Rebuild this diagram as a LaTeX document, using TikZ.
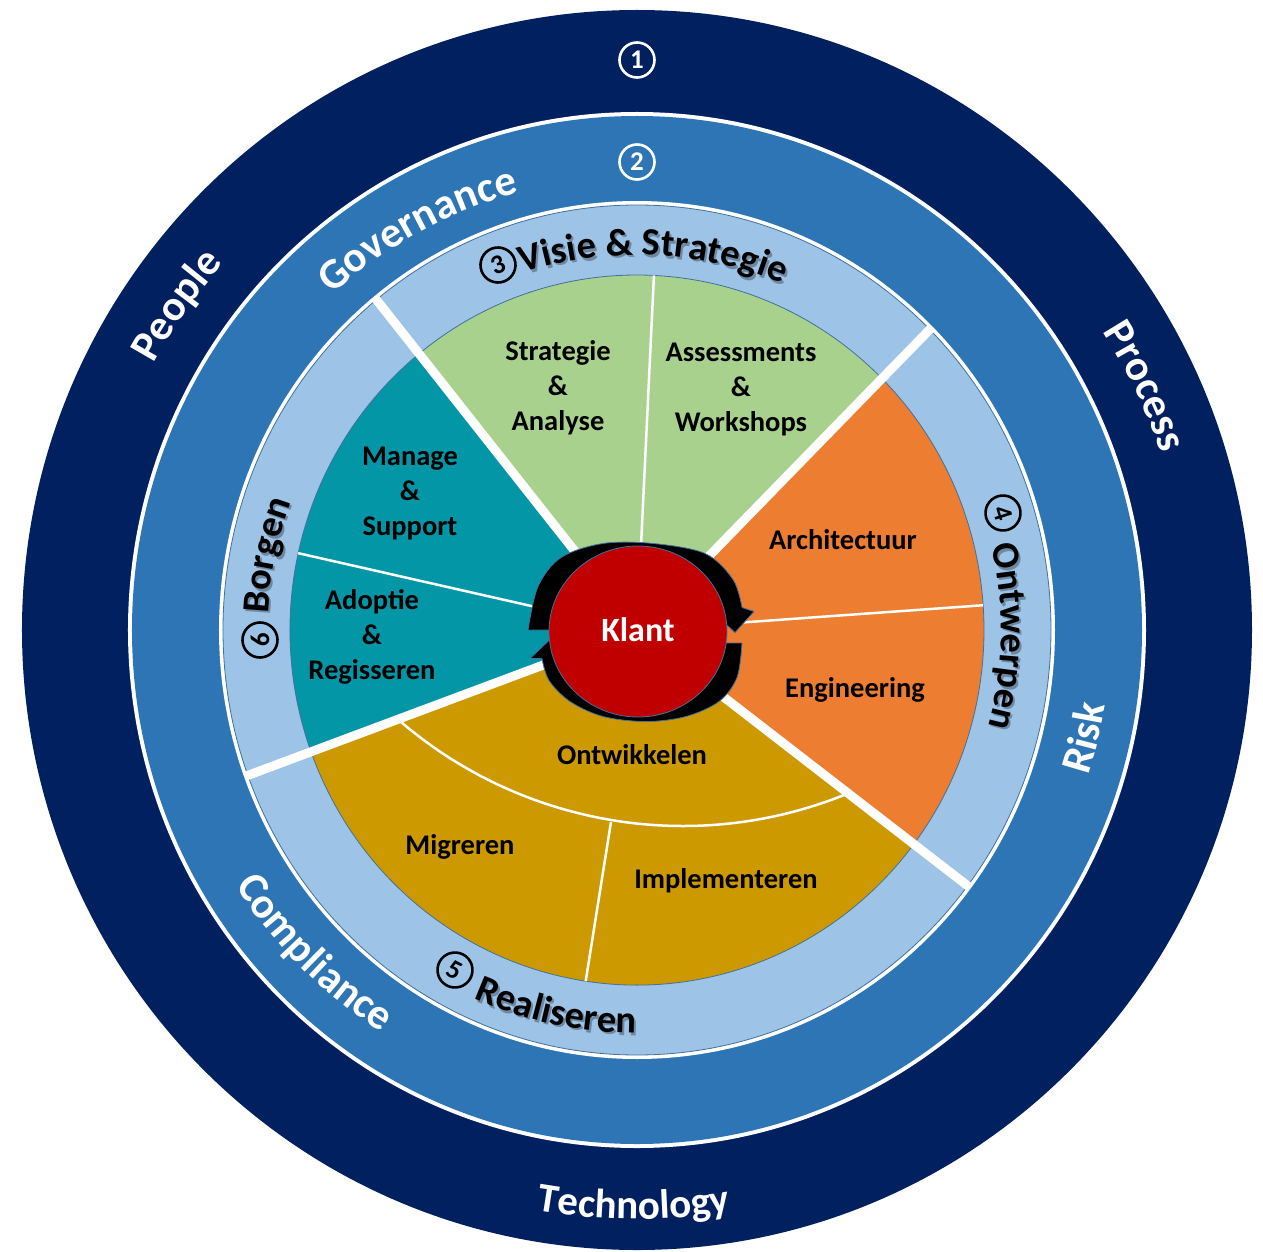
\documentclass[tikz,border=0pt]{standalone}
\usepackage{fontspec}
\setmainfont{Carlito}
\usetikzlibrary{decorations.text}
\definecolor{navy}{HTML}{002060}
\definecolor{midblue}{HTML}{2E75B6}
\definecolor{lightblue}{HTML}{9DC3E6}
\definecolor{segGreen}{HTML}{A9D18E}
\definecolor{segTeal}{HTML}{0396A6}
\definecolor{segOrange}{HTML}{ED7D31}
\definecolor{segGold}{HTML}{CC9900}
\definecolor{klantRed}{HTML}{C00000}
\definecolor{edgeblue}{HTML}{41719C}
\newcommand\ringfont{\fontsize{43}{50}\selectfont\bfseries}
\newcommand\techfont{\fontsize{41}{48}\selectfont\bfseries}
\newcommand\bandfont{\fontsize{38.5}{45}\selectfont\bfseries}
\newcommand\segfont{\fontsize{28.5}{35}\selectfont\bfseries}
\newcommand\klantfont{\fontsize{34}{40}\selectfont\bfseries}
\newcommand\numfont{\fontsize{27}{27}\selectfont\bfseries}
\newcommand\cwtext[5]{\path[decorate,decoration={text along path,text align=center,text color=#1,text={|#2|#5}}] ({#3+60}:#4) arc[start angle={#3+60},end angle={#3-60},radius=#4];}
\newcommand\ccwtext[5]{\path[decorate,decoration={text along path,text align=center,text color=#1,text={|#2|#5}}] ({#3-60}:#4) arc[start angle={#3-60},end angle={#3+60},radius=#4];}
\newcommand\mysector[3]{\filldraw[seg,fill=#1] (0,0) -- (#2:347 and 355) arc[start angle=#2,end angle=#3,x radius=347,y radius=355] -- cycle;}
\begin{document}
\begin{tikzpicture}[x=1pt,y=1pt,
  seg/.style={draw=edgeblue,line width=0.8pt},
  thicksep/.style={white,line width=9pt},
  thinsep/.style={white,line width=2.5pt},
  segtext/.style={font=\segfont,align=center,text=black,inner sep=0pt},
  cnum/.style={circle,draw,line width=2.6pt,minimum size=35pt,inner sep=0pt,font=\numfont},
  arrowband/.style={fill=black,draw=edgeblue,line width=0.8pt,line join=round}]
\useasboundingbox (-637,-621) rectangle (626,630);
% rings
\fill[navy] (0,0) ellipse[x radius=615,y radius=620];
\fill[white] (0,0) ellipse[x radius=509,y radius=518];
\fill[midblue] (0,0) ellipse[x radius=505,y radius=514];
\fill[white] (0,0) ellipse[x radius=418,y radius=429];
\filldraw[seg,fill=lightblue] (0,0) ellipse[x radius=414,y radius=425];
% sectors
\mysector{segGreen}{45}{129}
\mysector{segTeal}{129}{200}
\mysector{segGold}{200}{323}
\mysector{segOrange}{-37}{45}
% thin dividers
\draw[thinsep] (0,0) -- (87.2:347 and 355);
\draw[thinsep] (0,0) -- (4:347 and 355);
\draw[thinsep] (0,0) -- (167.5:347 and 355);
\draw[thinsep,shift={(46,238)}] (229:434) arc[start angle=229,end angle=292,radius=434];
\draw[thinsep] (-26,-192) -- (261.5:347 and 355);
% thick dividers
\foreach \a in {45,129,200,323} \draw[thicksep] (0,0) -- (\a:415 and 426);
% centre arrows and circle
\begin{scope}[shift={(1,-1.5)}]
\filldraw[arrowband] plot[smooth,tension=0.55] coordinates {(-110,1.5) (-100,45) (-77,74) (-35,88) (15,88) (67,78) (95,52) (104,24)}
  -- (116,20) -- (97,-1) -- (72,21.5) -- (0,70) -- (-86,1.5) -- cycle;
\filldraw[arrowband] plot[smooth,tension=0.55] coordinates {(104,-11.5) (99,-46) (81,-70) (48,-85) (8,-90) (-35,-85) (-68,-70) (-89,-49) (-96,-27)}
  -- (-108,-27) -- (-87,-7) -- (-66,-29) -- (0,-70) -- (84,-11.5) -- cycle;
\filldraw[fill=klantRed,draw=edgeblue,line width=0.8pt] (0,0) ellipse[x radius=89,y radius=85.5];
\node[font=\klantfont,text=white] (klant) at (0,2) {Klant};
\end{scope}
% segment labels
\node[segtext] (sa) at (-79,242) {Strategie\\\&\\Analyse};
\node[segtext] (aw) at (104,241) {Assessments\\\&\\Workshops};
\node[segtext] (ms) at (-227,137) {Manage\\\&\\Support};
\node[segtext] (ar) at (-265,-7) {Adoptie\\\&\\Regisseren};
\node[segtext] (arch) at (206,90) {Architectuur};
\node[segtext] (eng) at (218,-60) {Engineering};
\node[segtext] (ontw) at (-5,-125) {Ontwikkelen};
\node[segtext] (migr) at (-177,-217) {Migreren};
\node[segtext] (impl) at (89,-251) {Implementeren};
% outer ring labels
\node[cnum,draw=white,text=white] (n1) at (0,570) {1};
\node[cnum,draw=white,text=white] (n2) at (0,468) {2};
\cwtext{white}{\ringfont}{144.8}{552}{People}
\cwtext{white}{\ringfont}{118.7}{453}{Governance}
\cwtext{white}{\ringfont}{25.6}{553}{Process}
\ccwtext{white}{\ringfont}{-13.5}{474}{Risk}
\ccwtext{white}{\ringfont}{225}{476}{Compliance}
\ccwtext{white}{\techfont}{269.7}{589}{Technology}
% band labels with shadow
\begin{scope}[shift={(2,-2.5)},opacity=0.3]
\cwtext{black}{\bandfont}{87.5}{375}{Visie {\&} Strategie}
\cwtext{black}{\bandfont}{-1}{364}{Ontwerpen}
\ccwtext{black}{\bandfont}{258}{403}{Realiseren}
\cwtext{black}{\bandfont}{168.5}{369}{Borgen}
\end{scope}
\cwtext{black}{\bandfont}{87.5}{375}{Visie {\&} Strategie}
\cwtext{black}{\bandfont}{-1}{364}{Ontwerpen}
\ccwtext{black}{\bandfont}{258}{403}{Realiseren}
\cwtext{black}{\bandfont}{168.5}{369}{Borgen}
\node[cnum,draw=black,text=black,rotate=20.8] (n3) at (-139,365) {3};
\node[cnum,draw=black,text=black,rotate=-72.3] (n4) at (366,117) {4};
\node[cnum,draw=black,text=black,rotate=-28.2] (n5) at (-182,-340) {5};
\node[cnum,draw=black,text=black,rotate=91.5] (n6) at (-377,-10) {6};
\end{tikzpicture}
\end{document}
